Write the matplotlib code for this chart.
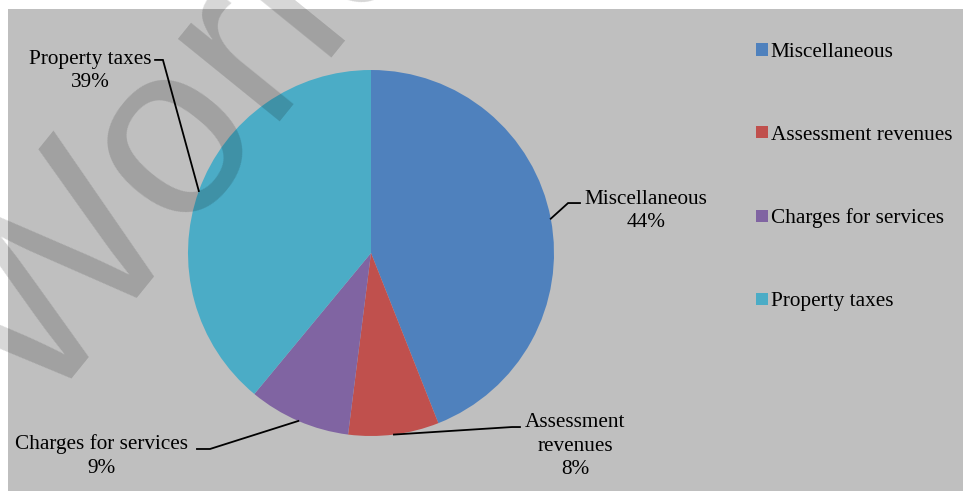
import matplotlib
matplotlib.use("Agg")
import matplotlib.pyplot as plt
from matplotlib.patches import Rectangle
import numpy as np

# Revenue shares
categories = ["Miscellaneous", "Assessment revenues", "Charges for services", "Property taxes"]
shares = [44, 8, 9, 39]
label_names = ["Miscellaneous", "Assessment\nrevenues", "Charges for services", "Property taxes"]
colors = ["#4F81BD", "#C0504D", "#8064A2", "#4BACC6"]

W, H, DPI = 963, 491, 100
fig = plt.figure(figsize=(W / DPI, H / DPI), dpi=DPI)
fig.patch.set_facecolor("white")

# Grey chart area
fig.add_artist(Rectangle((8 / W, 0), 1 - 8 / W, 1 - 9 / H, transform=fig.transFigure,
                         facecolor="#BFBFBF", edgecolor="none", zorder=-1))

plt.rcParams["font.family"] = ["Liberation Serif", "DejaVu Serif"]
FS = 15.3

# Pie axes: centre (371, 253) px, radius 183 px
cx, cy, r = 371, 253, 183
ax = fig.add_axes([(cx - r) / W, (H - cy - r) / H, 2 * r / W, 2 * r / H])
ax.set_facecolor("none")
wedges, _ = ax.pie(shares, colors=colors, startangle=90, counterclock=False,
                   radius=1, wedgeprops=dict(linewidth=0))
ax.set_xlim(-1, 1)
ax.set_ylim(-1, 1)
ax.set_aspect("equal")
ax.axis("off")

# Label layout (data units): text centre, elbow point, stub end
label_layout = [
    dict(text=(1.503, 0.229), elbow=(1.077, 0.273), stub=(1.142, 0.273)),
    dict(text=(1.115, -1.055), elbow=(0.770, -0.951), stub=(0.814, -0.951)),
    dict(text=(-1.470, -1.109), elbow=(-0.880, -1.071), stub=(-0.951, -1.071)),
    dict(text=(-1.536, 0.995), elbow=(-1.137, 1.055), stub=(-1.180, 1.055)),
]

for w, name, share, lay in zip(wedges, label_names, shares, label_layout):
    mid = np.deg2rad((w.theta1 + w.theta2) / 2)
    px, py = np.cos(mid), np.sin(mid)
    ex, ey = lay["elbow"]
    sx, sy = lay["stub"]
    ax.plot([px, ex, sx], [py, ey, sy], color="black", lw=1.3, clip_on=False,
            solid_joinstyle="miter")
    ax.text(lay["text"][0], lay["text"][1], f"{name}\n{share}%", ha="center", va="center",
            fontsize=FS, color="black", linespacing=1.3)

# Legend
fig.legend(wedges, categories, loc="upper left", bbox_to_anchor=(756 / W, 1 - 43 / H),
           frameon=False, fontsize=FS, handlelength=0.55, handleheight=0.5,
           handletextpad=0.15, labelspacing=3.0, borderpad=0, borderaxespad=0)

# Watermark
fig.text(40 / W, (H - 417) / H, "World", fontsize=178, family="Liberation Sans",
         color="black", alpha=0.16, rotation=51, rotation_mode="anchor",
         ha="left", va="baseline", zorder=10)

fig.savefig("out.png", dpi=DPI)
